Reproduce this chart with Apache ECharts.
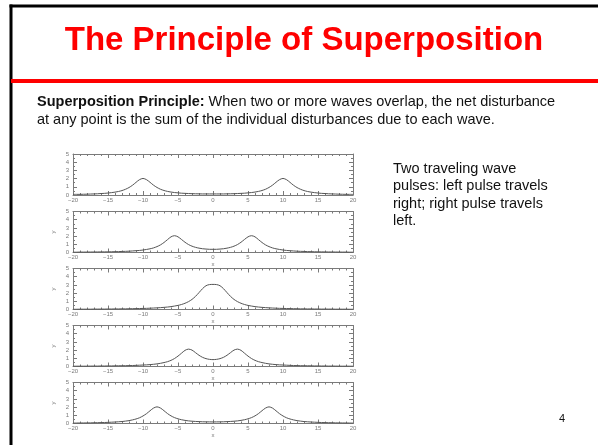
<!DOCTYPE html>
<html>
<head>
<meta charset="utf-8">
<script src="https://cdn.jsdelivr.net/npm/echarts@6/dist/echarts.min.js"></script>
<style>
  html, body { margin: 0; padding: 0; background: #fff; }
  #chart { width: 598px; height: 445px; }
</style>
</head>
<body>
<div id="chart"></div>
<script>
// Sample positions along x (shared by every snapshot)
const xs = [-20,-19.5,-19,-18.5,-18,-17.5,-17,-16.5,-16,-15.5,-15,-14.5,-14,-13.5,-13,-12.5,-12,-11.5,-11,-10.5,
  -10,-9.5,-9,-8.5,-8,-7.5,-7,-6.5,-6,-5.5,-5,-4.5,-4,-3.5,-3,-2.5,-2,-1.5,-1,-0.5,
  0,0.5,1,1.5,2,2.5,3,3.5,4,4.5,5,5.5,6,6.5,7,7.5,8,8.5,9,9.5,
  10,10.5,11,11.5,12,12.5,13,13.5,14,14.5,15,15.5,16,16.5,17,17.5,18,18.5,19,19.5,20];

// Snapshot 1: pulses centred near x = -10 and x = 10
const snapshot1 = [0.07,0.08,0.08,0.09,0.10,0.12,0.13,0.15,0.18,0.20,0.24,0.29,0.35,0.43,0.54,0.70,0.91,1.19,1.54,1.87,
  2.02,1.87,1.55,1.20,0.92,0.70,0.55,0.44,0.36,0.30,0.26,0.22,0.20,0.18,0.16,0.15,0.14,0.13,0.13,0.13,
  0.13,0.13,0.13,0.13,0.14,0.15,0.16,0.18,0.20,0.22,0.26,0.30,0.36,0.44,0.55,0.70,0.92,1.20,1.55,1.87,
  2.02,1.87,1.54,1.19,0.91,0.70,0.54,0.43,0.35,0.29,0.24,0.20,0.18,0.15,0.13,0.12,0.10,0.09,0.08,0.08,0.07];

// Snapshot 2: pulses near x = -5.5 and x = 5.5
const snapshot2 = [0.04,0.04,0.05,0.05,0.05,0.06,0.06,0.07,0.07,0.08,0.08,0.09,0.10,0.11,0.13,0.14,0.16,0.19,0.22,0.25,
  0.30,0.37,0.45,0.56,0.72,0.93,1.22,1.57,1.91,2.05,1.91,1.59,1.25,0.97,0.77,0.63,0.53,0.46,0.42,0.39,
  0.39,0.39,0.42,0.46,0.53,0.63,0.77,0.97,1.25,1.59,1.91,2.05,1.91,1.57,1.22,0.93,0.72,0.56,0.45,0.37,
  0.30,0.25,0.22,0.19,0.16,0.14,0.13,0.11,0.10,0.09,0.08,0.08,0.07,0.07,0.06,0.06,0.05,0.05,0.05,0.04,0.04];

// Snapshot 3: pulses overlapping at the centre
const snapshot3 = [0.03,0.03,0.04,0.04,0.04,0.04,0.05,0.05,0.05,0.05,0.06,0.06,0.07,0.07,0.08,0.08,0.09,0.10,0.11,0.12,
  0.13,0.14,0.16,0.18,0.20,0.23,0.26,0.30,0.35,0.42,0.50,0.61,0.76,0.96,1.23,1.60,2.06,2.54,2.90,3.04,
  3.06,3.04,2.90,2.54,2.06,1.60,1.23,0.96,0.76,0.61,0.50,0.42,0.35,0.30,0.26,0.23,0.20,0.18,0.16,0.14,
  0.13,0.12,0.11,0.10,0.09,0.08,0.08,0.07,0.07,0.06,0.06,0.05,0.05,0.05,0.05,0.04,0.04,0.04,0.04,0.03,0.03];

// Snapshot 4: pulses separating, near x = -3.5 and x = 3.5
const snapshot4 = [0.04,0.04,0.04,0.04,0.04,0.05,0.05,0.05,0.06,0.06,0.07,0.07,0.08,0.09,0.09,0.10,0.11,0.12,0.14,0.16,
  0.18,0.20,0.23,0.27,0.32,0.39,0.48,0.59,0.75,0.97,1.27,1.62,1.97,2.12,2.00,1.69,1.37,1.12,0.96,0.87,
  0.84,0.87,0.96,1.12,1.37,1.69,2.00,2.12,1.97,1.62,1.27,0.97,0.75,0.59,0.48,0.39,0.32,0.27,0.23,0.20,
  0.18,0.16,0.14,0.12,0.11,0.10,0.09,0.09,0.08,0.07,0.07,0.06,0.06,0.05,0.05,0.05,0.04,0.04,0.04,0.04,0.04];

// Snapshot 5: pulses near x = -8 and x = 8
const snapshot5 = [0.05,0.06,0.06,0.07,0.07,0.08,0.09,0.10,0.11,0.12,0.14,0.16,0.18,0.21,0.24,0.29,0.35,0.44,0.55,0.70,
  0.92,1.20,1.55,1.88,2.03,1.88,1.56,1.21,0.93,0.72,0.57,0.46,0.38,0.32,0.28,0.25,0.23,0.21,0.20,0.20,
  0.19,0.20,0.20,0.21,0.23,0.25,0.28,0.32,0.38,0.46,0.57,0.72,0.93,1.21,1.56,1.88,2.03,1.88,1.55,1.20,
  0.92,0.70,0.55,0.44,0.35,0.29,0.24,0.21,0.18,0.16,0.14,0.12,0.11,0.10,0.09,0.08,0.07,0.07,0.06,0.06,0.05];

const snapshots = [snapshot1, snapshot2, snapshot3, snapshot4, snapshot5];

// Axis ranges
const xRange = [-20, 20];
const xStep = 5;
const yRange = [0, 5];
const yStep = 1;

// Slide texts
const titleText = 'The Principle of Superposition';
const leadBold = 'Superposition Principle:';
const leadLine1 = ' When two or more waves overlap, the net disturbance';
const leadLine2 = 'at any point is the sum of the individual disturbances due to each wave.';
const sideNote = ['Two traveling wave', 'pulses: left pulse travels', 'right; right pulse travels', 'left.'];
const pageNo = '4';

const FONT = '"Liberation Sans", Arial, Helvetica, sans-serif';
const GRID_LEFT = 73, GRID_W = 280, GRID_H = 41;
const gridTops = [154, 211.5, 268.5, 325.5, 382.5];

const axisGrey = '#7a7a7a';
const lineCol = { color: axisGrey, width: 1 };
const minus = v => (v < 0 ? '\u2212' + (-v) : String(v));

const grid = [], xAxis = [], yAxis = [], series = [];
snapshots.forEach((ys, i) => {
  grid.push({ left: GRID_LEFT, top: gridTops[i], width: GRID_W, height: GRID_H });
  const labelled = i > 0;
  const xBase = {
    gridIndex: i, type: 'value', min: xRange[0], max: xRange[1], interval: xStep,
    axisLine: { show: true, onZero: false, lineStyle: lineCol },
    axisTick: { show: true, inside: true, length: 4, lineStyle: lineCol },
    minorTick: { show: true, splitNumber: 5, length: 2, lineStyle: lineCol },
    splitLine: { show: false }, minorSplitLine: { show: false }
  };
  xAxis.push(Object.assign({}, xBase, {
    position: 'bottom',
    axisLabel: { fontSize: 6, color: axisGrey, margin: 2, formatter: minus, fontFamily: FONT,
                 showMinLabel: true, showMaxLabel: true },
    name: labelled ? 'x' : '', nameLocation: 'middle', nameGap: 9,
    nameTextStyle: { fontSize: 6, color: axisGrey, fontFamily: FONT }
  }));
  xAxis.push(Object.assign({}, xBase, { position: 'top', axisLabel: { show: false } }));
  const yBase = {
    gridIndex: i, type: 'value', min: yRange[0], max: yRange[1], interval: yStep,
    axisLine: { show: true, onZero: false, lineStyle: lineCol },
    axisTick: { show: true, inside: true, length: 4, lineStyle: lineCol },
    minorTick: { show: true, splitNumber: 2, length: 2, lineStyle: lineCol },
    splitLine: { show: false }, minorSplitLine: { show: false }
  };
  yAxis.push(Object.assign({}, yBase, {
    position: 'left',
    axisLabel: { fontSize: 6, color: axisGrey, margin: 4, fontFamily: FONT,
                 showMinLabel: true, showMaxLabel: true },
    name: labelled ? 'y' : '', nameLocation: 'middle', nameGap: 17,
    nameTextStyle: { fontSize: 6, color: axisGrey, fontFamily: FONT }
  }));
  yAxis.push(Object.assign({}, yBase, { position: 'right', axisLabel: { show: false } }));
  series.push({
    type: 'line', xAxisIndex: 2 * i, yAxisIndex: 2 * i,
    data: xs.map((x, k) => [x, ys[k]]),
    showSymbol: false, smooth: 0.3,
    lineStyle: { color: '#555', width: 1 },
    silent: true
  });
});

const graphic = [
  // slide frame
  { type: 'line', shape: { x1: 9.5, y1: 6, x2: 598, y2: 6 }, style: { stroke: '#000', lineWidth: 3 } },
  { type: 'line', shape: { x1: 11, y1: 4.5, x2: 11, y2: 445 }, style: { stroke: '#000', lineWidth: 3 } },
  // red rule under the title
  { type: 'line', shape: { x1: 11, y1: 81, x2: 598, y2: 81 }, style: { stroke: '#ff0000', lineWidth: 4 } },
  { type: 'text', x: 304, y: 41, style: {
      text: titleText, fill: '#ff0000', fontFamily: FONT, fontWeight: 'bold', fontSize: 33,
      align: 'center', verticalAlign: 'middle' } },
  { type: 'text', x: 37, y: 93, style: {
      text: '{b|' + leadBold + '}{n|' + leadLine1 + '}\n{n|' + leadLine2 + '}',
      fill: '#111', fontFamily: FONT, fontSize: 14.5, lineHeight: 18,
      align: 'left', verticalAlign: 'top',
      rich: {
        b: { fontFamily: FONT, fontSize: 14.5, fontWeight: 'bold', fill: '#111', lineHeight: 18 },
        n: { fontFamily: FONT, fontSize: 14.5, fill: '#111', lineHeight: 18 }
      } } },
  { type: 'text', x: 393, y: 160, style: {
      text: sideNote.join('\n'), fill: '#111', fontFamily: FONT, fontSize: 14.5, lineHeight: 17.5,
      align: 'left', verticalAlign: 'top' } },
  { type: 'text', x: 562, y: 419, style: {
      text: pageNo, fill: '#111', fontFamily: FONT, fontSize: 11,
      align: 'center', verticalAlign: 'middle' } }
];

const chart = echarts.init(document.getElementById('chart'), null, { renderer: 'canvas' });
chart.setOption({
  animation: false,
  backgroundColor: '#ffffff',
  grid, xAxis, yAxis, series, graphic
});
</script>
</body>
</html>
